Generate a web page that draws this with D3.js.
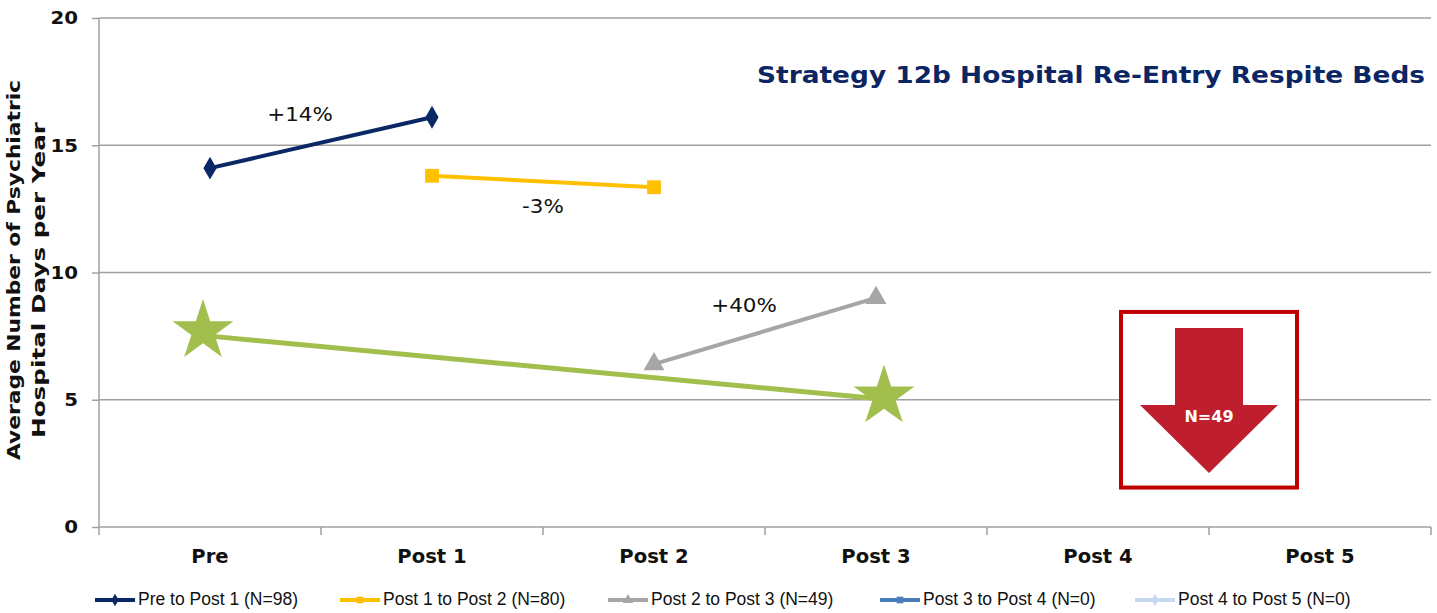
<!DOCTYPE html>
<html>
<head>
<meta charset="utf-8">
<script src="https://cdn.jsdelivr.net/npm/d3@7"></script>
<style>
  html, body { margin: 0; padding: 0; background: #ffffff; }
  svg { display: block; }
</style>
</head>
<body>
<svg id="chart" width="1437" height="613"></svg>
<script>
// Time points along the x axis
const categories = ["Pre", "Post 1", "Post 2", "Post 3", "Post 4", "Post 5"];
const yTicks = [0, 5, 10, 15, 20];

// Average psychiatric hospital days per year, one cohort per series
const preToPost1   = [14.1, 16.1, null, null, null, null];
const post1ToPost2 = [null, 13.8, 13.35, null, null, null];
const post2ToPost3 = [null, null, 6.4, 9.0, null, null];
const post3ToPost4 = [null, null, null, null, null, null];
const post4ToPost5 = [null, null, null, null, null, null];
// Overall Pre vs Post 3 comparison for the N=49 cohort
const preVsPost3   = [7.5, null, null, 5.05, null, null];

const seriesNames = [
  "Pre to Post 1 (N=98)",
  "Post 1 to Post 2 (N=80)",
  "Post 2 to Post 3 (N=49)",
  "Post 3 to Post 4 (N=0)",
  "Post 4 to Post 5 (N=0)"
];
const changeLabels = ["+14%", "-3%", "+40%"];
const cohortLabel = "N=49";
const titleText = "Strategy 12b Hospital Re-Entry Respite Beds";
const yTitleLines = ["Average Number of Psychiatric", "Hospital Days per Year"];

const series = [
  { name: seriesNames[0], values: preToPost1,   color: "#0b2866", marker: "diamond" },
  { name: seriesNames[1], values: post1ToPost2, color: "#ffc000", marker: "square" },
  { name: seriesNames[2], values: post2ToPost3, color: "#a6a6a6", marker: "triangle" },
  { name: seriesNames[3], values: post3ToPost4, color: "#4a7ebb", marker: "square" },
  { name: seriesNames[4], values: post4ToPost5, color: "#c6d9f1", marker: "diamond" }
];

const FONT = "DejaVu Sans, Verdana, sans-serif";
const svg = d3.select("#chart");
const margin = { left: 99, right: 6, top: 18, bottom: 86 };
const W = 1437, H = 613;
const plotW = W - margin.left - margin.right;
const plotH = H - margin.top - margin.bottom;

const x = d3.scaleBand().domain(categories).range([margin.left, margin.left + plotW]).padding(0);
const y = d3.scaleLinear().domain([0, 20]).range([margin.top + plotH, margin.top]);
const cx = c => x(c) + x.bandwidth() / 2;

// Stretch a text node horizontally by a factor (Verdana-like wide setting)
function widen(sel, factor) {
  sel.each(function () {
    const w = this.getComputedTextLength();
    d3.select(this).attr("textLength", w * factor).attr("lengthAdjust", "spacingAndGlyphs");
  });
}

// Gridlines
svg.append("g")
  .selectAll("line")
  .data(yTicks.filter(t => t > 0))
  .join("line")
  .attr("x1", margin.left).attr("x2", margin.left + plotW)
  .attr("y1", d => y(d)).attr("y2", d => y(d))
  .attr("stroke", "#a0a0a0").attr("stroke-width", 1.5);

// Y axis
const yAxis = svg.append("g")
  .attr("transform", `translate(${margin.left},0)`)
  .call(d3.axisLeft(y).tickValues(yTicks).tickSize(7).tickPadding(14));
yAxis.select(".domain").attr("stroke", "#a0a0a0").attr("stroke-width", 1.5)
  .attr("d", `M0,${y(20)}V${y(0)}`);
yAxis.selectAll(".tick line").attr("stroke", "#a0a0a0").attr("stroke-width", 1.5);
yAxis.selectAll(".tick text")
  .attr("font-family", FONT)
  .attr("font-weight", "bold").attr("font-size", 18).attr("fill", "#111")
  .call(widen, 1.1);

// X axis with category separator ticks
const xAxisG = svg.append("g").attr("transform", `translate(0,${y(0)})`);
xAxisG.append("line")
  .attr("x1", margin.left).attr("x2", margin.left + plotW)
  .attr("stroke", "#a0a0a0").attr("stroke-width", 1.5);
const bounds = categories.map(c => x(c)).concat([x(categories[categories.length - 1]) + x.bandwidth()]);
xAxisG.selectAll("line.sep").data(bounds).join("line").attr("class", "sep")
  .attr("x1", d => d).attr("x2", d => d).attr("y1", 0).attr("y2", 8)
  .attr("stroke", "#a0a0a0").attr("stroke-width", 1.5);
xAxisG.selectAll("text").data(categories).join("text")
  .attr("x", d => cx(d)).attr("y", 36)
  .attr("text-anchor", "middle")
  .attr("font-family", FONT)
  .attr("font-weight", "bold").attr("font-size", 19).attr("fill", "#111")
  .text(d => d)
  .call(widen, 1.03);

// Y axis title (two lines, rotated)
const yTitleCenters = [270, 280];
const yTitleBaselines = [20, 45];
const yTitleLengths = [380, 316];
yTitleLines.forEach((t, i) => {
  svg.append("text")
    .attr("transform", `translate(${yTitleBaselines[i]},${yTitleCenters[i]}) rotate(-90)`)
    .attr("text-anchor", "middle")
    .attr("font-family", FONT)
    .attr("font-weight", "bold").attr("font-size", 18).attr("fill", "#111")
    .attr("textLength", yTitleLengths[i]).attr("lengthAdjust", "spacingAndGlyphs")
    .text(t);
});

// Marker shapes
const markerPath = (type, size) => {
  if (type === "diamond") return d3.symbol(d3.symbolDiamond, size)();
  if (type === "square") return d3.symbol(d3.symbolSquare, size)();
  if (type === "triangle") return d3.symbol(d3.symbolTriangle, size)();
  return d3.symbol(d3.symbolCircle, size)();
};

const line = d3.line()
  .defined(d => d.v != null)
  .x(d => cx(d.c)).y(d => y(d.v));

// Cohort series
series.forEach(s => {
  const pts = categories.map((c, i) => ({ c, v: s.values[i] }));
  svg.append("path").datum(pts)
    .attr("d", line).attr("fill", "none")
    .attr("stroke", s.color).attr("stroke-width", 4);
  svg.append("g").selectAll("path")
    .data(pts.filter(d => d.v != null)).join("path")
    .attr("transform", d => `translate(${cx(d.c)},${y(d.v)})`)
    .attr("d", markerPath(s.marker, s.marker === "diamond" ? 150 : 190))
    .attr("fill", s.color);
});

// Overall comparison line with star markers
const greenPts = categories.map((c, i) => ({ c, v: preVsPost3[i] })).filter(d => d.v != null);
svg.append("path").datum(greenPts)
  .attr("d", d3.line().x(d => cx(d.c)).y(d => y(d.v)))
  .attr("fill", "none").attr("stroke", "#a2bf4e").attr("stroke-width", 5);
const starShift = [[-7, -5], [8, -2]];
svg.append("g").selectAll("path").data(greenPts).join("path")
  .attr("transform", (d, i) => `translate(${cx(d.c) + starShift[i][0]},${y(d.v) + starShift[i][1]})`)
  .attr("d", d3.symbol(d3.symbolStar, 1150)())
  .attr("fill", "#a2bf4e");

// Percent change labels near each segment
const labelOffsets = [[-21, -27], [0, 26], [-21, -25]];
[preToPost1, post1ToPost2, post2ToPost3].forEach((vals, k) => {
  const idx = vals.map((v, i) => v != null ? i : -1).filter(i => i >= 0);
  const mx = (cx(categories[idx[0]]) + cx(categories[idx[1]])) / 2;
  const my = (y(vals[idx[0]]) + y(vals[idx[1]])) / 2;
  svg.append("text")
    .attr("x", mx + labelOffsets[k][0]).attr("y", my + labelOffsets[k][1])
    .attr("text-anchor", "middle").attr("dominant-baseline", "middle")
    .attr("font-family", FONT)
    .attr("font-size", 19.5).attr("fill", "#111")
    .text(changeLabels[k])
    .call(widen, 1.1);
});

// Title
svg.append("text")
  .attr("x", 1425).attr("y", 83)
  .attr("text-anchor", "end")
  .attr("font-family", FONT)
  .attr("font-weight", "bold").attr("font-size", 23).attr("fill", "#0c2663")
  .text(titleText)
  .attr("textLength", 668).attr("lengthAdjust", "spacingAndGlyphs");

// Downward arrow callout in a framed box
const boxCx = x("Post 5");
const box = { x0: boxCx - 88, x1: boxCx + 88, y0: y(8.45), y1: y(1.55) };
svg.append("rect")
  .attr("x", box.x0).attr("y", box.y0)
  .attr("width", box.x1 - box.x0).attr("height", box.y1 - box.y0)
  .attr("fill", "#fff").attr("stroke", "#c00000").attr("stroke-width", 4);
const shaftTop = box.y0 + 16, headTop = box.y0 + 93, tip = box.y0 + 161;
svg.append("path")
  .attr("d", `M${boxCx - 34},${shaftTop} H${boxCx + 34} V${headTop} H${boxCx + 69}
              L${boxCx},${tip} L${boxCx - 69},${headTop} H${boxCx - 34} Z`)
  .attr("fill", "#be1e2d");
svg.append("text")
  .attr("x", boxCx).attr("y", headTop + 13)
  .attr("text-anchor", "middle").attr("dominant-baseline", "middle")
  .attr("font-family", FONT)
  .attr("font-weight", "bold").attr("font-size", 16).attr("fill", "#fff")
  .text(cohortLabel);

// Legend
const legendX = [95, 340, 608, 880, 1135];
const legend = svg.append("g").attr("transform", `translate(0,600)`);
series.forEach((s, i) => {
  const g = legend.append("g").attr("transform", `translate(${legendX[i]},0)`);
  g.append("line").attr("x1", 0).attr("x2", 40).attr("y1", 0).attr("y2", 0)
    .attr("stroke", s.color).attr("stroke-width", 4);
  g.append("path").attr("transform", "translate(20,0)")
    .attr("d", markerPath(s.marker, 45)).attr("fill", s.color);
  g.append("text").attr("x", 43).attr("y", 0)
    .attr("dominant-baseline", "middle")
    .attr("font-family", "Liberation Sans Narrow, Arial Narrow, sans-serif")
    .attr("font-size", 17.5).attr("fill", "#111")
    .text(s.name);
});
</script>
</body>
</html>
